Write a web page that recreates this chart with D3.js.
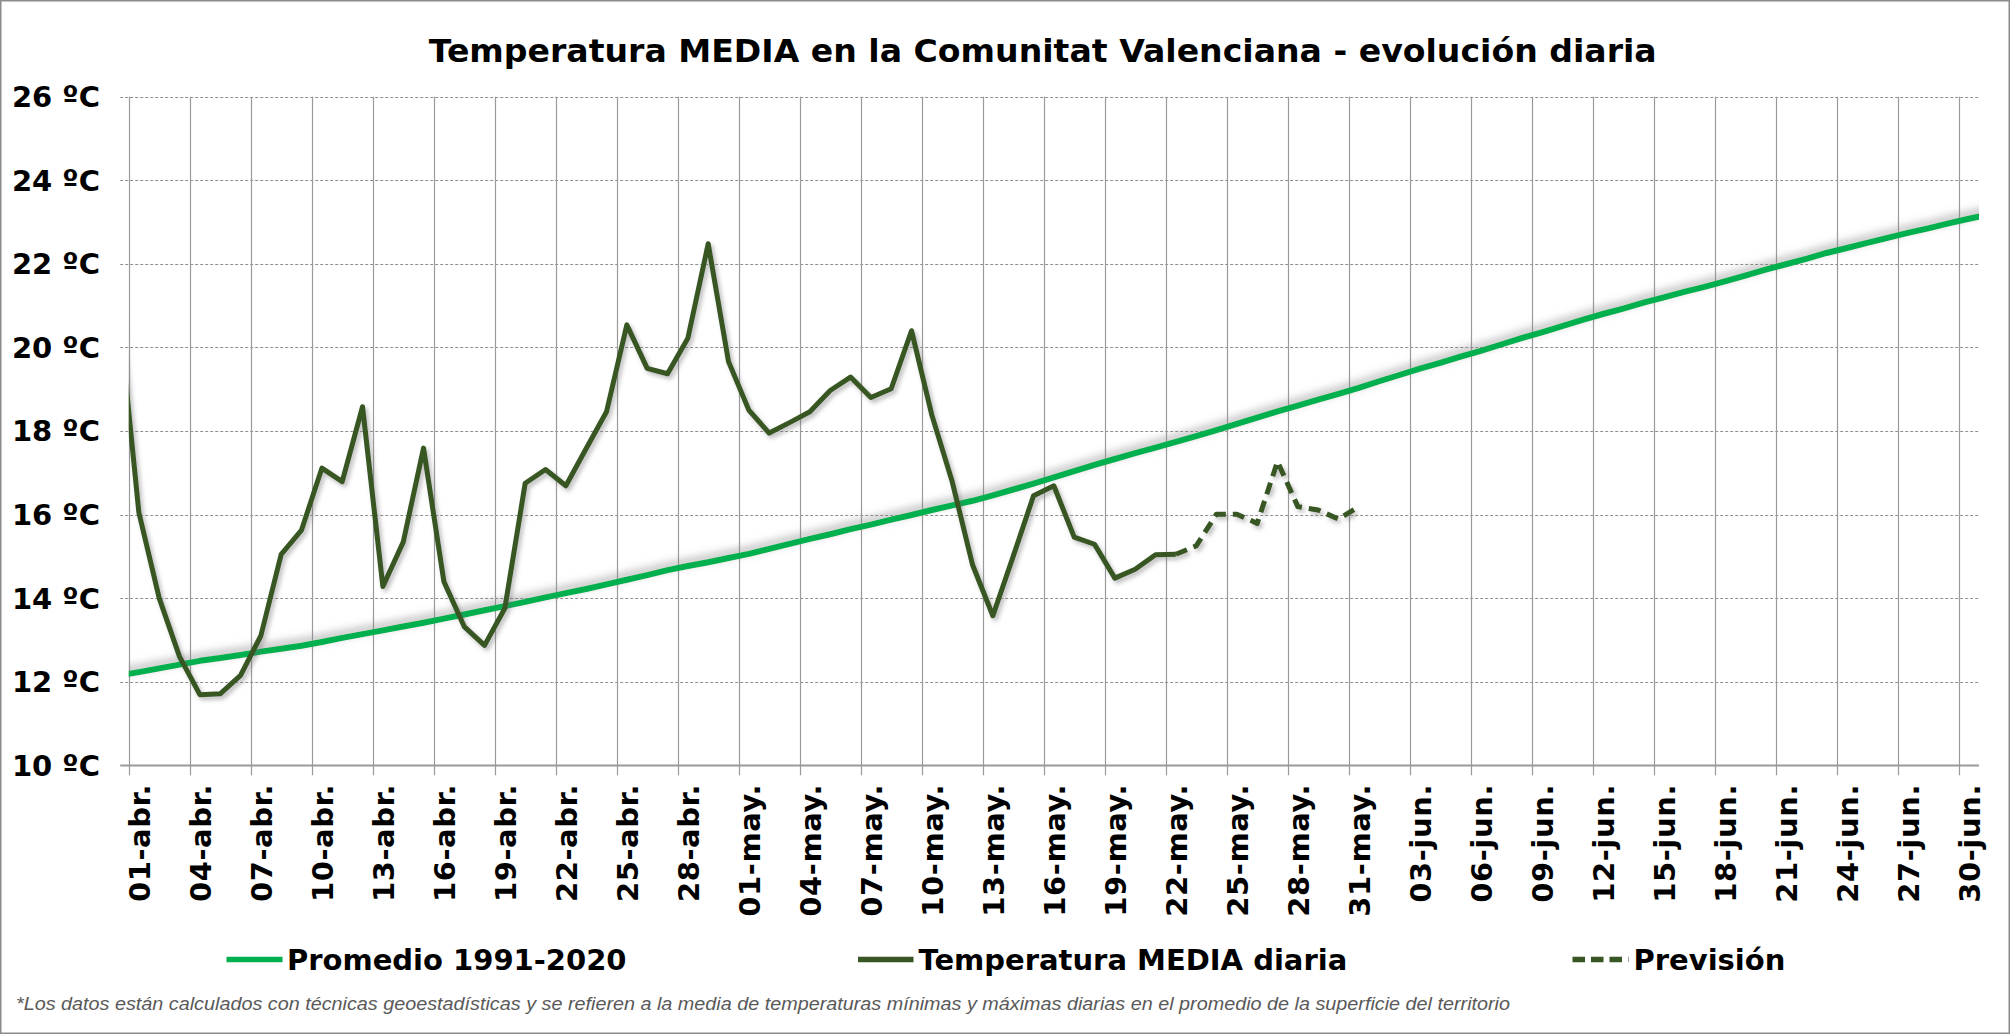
<!DOCTYPE html>
<html>
<head>
<meta charset="utf-8">
<script src="https://cdn.jsdelivr.net/npm/d3@7"></script>
<style>
  html, body { margin: 0; padding: 0; background: #ffffff; }
  svg { display: block; }
</style>
</head>
<body>
<svg id="chart" width="2010" height="1034"></svg>
<script>
// ---------------- DATA ----------------
const titulo = "Temperatura MEDIA en la Comunitat Valenciana - evolución diaria";
const nota = "*Los datos están calculados con técnicas geoestadísticas y se refieren a la media de temperaturas mínimas y máximas diarias en el promedio de la superficie del territorio";

// months of the category axis (01-abr. ... 30-jun.)
const meses = [{ m: "abr.", n: 30 }, { m: "may.", n: 31 }, { m: "jun.", n: 30 }];

// x tick labels (every 3 days)
const etiquetasX = ["01-abr.", "04-abr.", "07-abr.", "10-abr.", "13-abr.", "16-abr.", "19-abr.", "22-abr.", "25-abr.", "28-abr.",
  "01-may.", "04-may.", "07-may.", "10-may.", "13-may.", "16-may.", "19-may.", "22-may.", "25-may.", "28-may.", "31-may.",
  "03-jun.", "06-jun.", "09-jun.", "12-jun.", "15-jun.", "18-jun.", "21-jun.", "24-jun.", "27-jun.", "30-jun."];

// y ticks
const ticksY = [10, 12, 14, 16, 18, 20, 22, 24, 26];
const etiquetasY = ["10 ºC", "12 ºC", "14 ºC", "16 ºC", "18 ºC", "20 ºC", "22 ºC", "24 ºC", "26 ºC"];

// Promedio 1991-2020 : from 31-mar (index -1) to 01-jul (index 91)
const promedioInicio = -1;
const promedio = [12.15,
  12.23, 12.32, 12.41, 12.50, 12.57, 12.64, 12.72, 12.79, 12.86, 12.95,
  13.05, 13.14, 13.23, 13.32, 13.41, 13.51, 13.61, 13.71, 13.81, 13.91,
  14.02, 14.12, 14.22, 14.33, 14.44, 14.55, 14.67, 14.77, 14.86, 14.96,
  15.06, 15.18, 15.30, 15.42, 15.53, 15.65, 15.76, 15.88, 15.99, 16.11,
  16.22, 16.33, 16.46, 16.60, 16.74, 16.89, 17.04, 17.19, 17.33, 17.47,
  17.60, 17.74, 17.88, 18.02, 18.17, 18.32, 18.47, 18.61, 18.75, 18.89,
  19.03, 19.19, 19.34, 19.49, 19.63, 19.78, 19.92, 20.07, 20.22, 20.36,
  20.51, 20.66, 20.80, 20.93, 21.07, 21.20, 21.33, 21.45, 21.58, 21.72,
  21.86, 21.99, 22.12, 22.26, 22.38, 22.50, 22.62, 22.74, 22.85, 22.97,
  23.08, 23.18];

// Temperatura MEDIA diaria : from 31-mar (index -1) to 22-may (index 51)
const mediaInicio = -1;
const mediaDiaria = [20.9,
  16.05, 14.00, 12.60, 11.69, 11.71, 12.15, 13.10, 15.05, 15.63, 17.11,
  16.79, 18.58, 14.28, 15.34, 17.59, 14.40, 13.32, 12.87, 13.76, 16.75,
  17.08, 16.69, 17.58, 18.46, 20.54, 19.50, 19.37, 20.22, 22.48, 19.66,
  18.50, 17.95, 18.20, 18.46, 18.97, 19.29, 18.80, 19.01, 20.40, 18.38,
  16.79, 14.80, 13.58, 15.00, 16.45, 16.69, 15.46, 15.29, 14.48, 14.69,
  15.04, 15.05];

// Previsión : from 22-may (index 51) to 31-may (index 60)
const previsionInicio = 51;
const prevision = [15.05, 15.25, 16.01, 16.01, 15.79, 17.27, 16.19, 16.11, 15.89, 16.19];

const leyenda = ["Promedio 1991-2020", "Temperatura MEDIA diaria", "Previsión"];

// ---------------- LAYOUT ----------------
const W = 2010, H = 1034;
const plot = { left: 128.7, right: 1979, top: 96.7, bottom: 765.3 };
const colores = { promedio: "#00B050", media: "#375623", grid: "#8f8f8f", vgrid: "#9a9a9a" };
const fontBold = "'DejaVu Sans', Verdana, sans-serif";

const categorias = [];
meses.forEach(mm => { for (let d = 1; d <= mm.n; d++) categorias.push((d < 10 ? "0" : "") + d + "-" + mm.m); });
const nCat = categorias.length; // 91

const svg = d3.select("#chart");

// scales
const x = d3.scaleLinear().domain([-0.5, nCat - 0.5]).range([plot.left, plot.right]);
const y = d3.scaleLinear().domain([10, 26]).range([plot.bottom, plot.top]);

// defs: clip + shadows
const defs = svg.append("defs");
defs.append("clipPath").attr("id", "clipPlot").append("rect")
  .attr("x", plot.left).attr("y", plot.top - 20)
  .attr("width", plot.right - plot.left).attr("height", plot.bottom - plot.top + 20);
const f1 = defs.append("filter").attr("id", "shadowGreen").attr("x", "-5%").attr("y", "-20%").attr("width", "110%").attr("height", "140%");
f1.append("feDropShadow").attr("dx", 1).attr("dy", -4).attr("stdDeviation", 4)
  .attr("flood-color", "#7a7a7a").attr("flood-opacity", 0.6);
const f2 = defs.append("filter").attr("id", "shadowDark").attr("x", "-5%").attr("y", "-20%").attr("width", "110%").attr("height", "140%");
f2.append("feDropShadow").attr("dx", 2.5).attr("dy", 3).attr("stdDeviation", 2)
  .attr("flood-color", "#6a6a6a").attr("flood-opacity", 0.45);

// background + border
svg.append("rect").attr("x", 0.75).attr("y", 0.75).attr("width", W - 1.5).attr("height", H - 1.5)
  .attr("fill", "#ffffff").attr("stroke", "#8c8c8c").attr("stroke-width", 1.5);

// title
svg.append("text")
  .attr("x", 1042.7).attr("y", 61.5)
  .attr("text-anchor", "middle")
  .attr("font-family", fontBold).attr("font-weight", "bold").attr("font-size", 31.5)
  .attr("fill", "#000000")
  .attr("textLength", 1228).attr("lengthAdjust", "spacingAndGlyphs")
  .text(titulo);

// horizontal gridlines (dashed)
svg.append("g").selectAll("line").data(ticksY.filter(t => t !== 10)).join("line")
  .attr("x1", plot.left - 8.5).attr("x2", plot.right)
  .attr("y1", d => Math.round(y(d)) + 0.5).attr("y2", d => Math.round(y(d)) + 0.5)
  .attr("stroke", colores.grid).attr("stroke-width", 1.2).attr("stroke-dasharray", "3,2");

// vertical gridlines every 3 categories (incl. y axis line), extended as ticks
const vIdx = d3.range(0, nCat, 3);
svg.append("g").selectAll("line").data(vIdx).join("line")
  .attr("x1", d => Math.round(x(d - 0.5)) + 0.5).attr("x2", d => Math.round(x(d - 0.5)) + 0.5)
  .attr("y1", plot.top).attr("y2", plot.bottom + 10)
  .attr("stroke", colores.vgrid).attr("stroke-width", 1.2);

// x axis line
svg.append("line")
  .attr("x1", plot.left - 8.5).attr("x2", plot.right)
  .attr("y1", Math.round(plot.bottom) + 0.5).attr("y2", Math.round(plot.bottom) + 0.5)
  .attr("stroke", "#9a9a9a").attr("stroke-width", 2);

// y labels
svg.append("g").selectAll("text").data(ticksY).join("text")
  .attr("x", 100).attr("y", d => y(d)).attr("dy", "0.36em")
  .attr("text-anchor", "end")
  .attr("font-family", fontBold).attr("font-weight", "bold").attr("font-size", 29)
  .attr("fill", "#000000")
  .text((d, i) => etiquetasY[i]);

// x labels (rotated), placed at the category each label names
svg.append("g").selectAll("text").data(etiquetasX).join("text")
  .attr("transform", d => `translate(${x(categorias.indexOf(d))},784) rotate(-90)`)
  .attr("dy", "0.37em")
  .attr("text-anchor", "end")
  .attr("font-family", fontBold).attr("font-weight", "bold").attr("font-size", 29)
  .attr("letter-spacing", 0.6)
  .attr("fill", "#000000")
  .text(d => d);

// lines
const lineGen = d3.line().x(d => x(d.i)).y(d => y(d.v));
const serie = (vals, start) => vals.map((v, k) => ({ i: start + k, v }));

const gLines = svg.append("g").attr("clip-path", "url(#clipPlot)");
gLines.append("path").datum(serie(promedio, promedioInicio))
  .attr("d", lineGen).attr("fill", "none")
  .attr("stroke", colores.promedio).attr("stroke-width", 6)
  .attr("stroke-linejoin", "round")
  .attr("filter", "url(#shadowGreen)");
gLines.append("path").datum(serie(mediaDiaria, mediaInicio))
  .attr("d", lineGen).attr("fill", "none")
  .attr("stroke", colores.media).attr("stroke-width", 5)
  .attr("stroke-linejoin", "round")
  .attr("filter", "url(#shadowDark)");
gLines.append("path").datum(serie(prevision, previsionInicio))
  .attr("d", lineGen).attr("fill", "none")
  .attr("stroke", colores.media).attr("stroke-width", 5)
  .attr("stroke-dasharray", "12,7")
  .attr("stroke-linejoin", "round")
  .attr("filter", "url(#shadowDark)");

// legend
const legItems = [
  { x1: 226.5, x2: 282.5, tx: 287, color: colores.promedio, dash: null, w: 5.5 },
  { x1: 858, x2: 913.5, tx: 918.5, color: colores.media, dash: null, w: 5.5 },
  { x1: 1572.5, x2: 1628.5, tx: 1633.5, color: colores.media, dash: "12.5,6", w: 5.5 }
];
const gLeg = svg.append("g");
legItems.forEach((it, k) => {
  gLeg.append("line").attr("x1", it.x1).attr("x2", it.x2).attr("y1", 959.5).attr("y2", 959.5)
    .attr("stroke", it.color).attr("stroke-width", it.w)
    .attr("stroke-dasharray", it.dash);
  gLeg.append("text").attr("x", it.tx).attr("y", 970)
    .attr("font-family", fontBold).attr("font-weight", "bold").attr("font-size", 29)
    .attr("fill", "#000000").text(leyenda[k]);
});

// footnote
svg.append("text")
  .attr("x", 16).attr("y", 1010)
  .attr("font-family", "'Liberation Sans Narrow', 'Liberation Sans', 'Open Sans', sans-serif")
  .attr("font-style", "italic").attr("font-size", 19)
  .attr("fill", "#595959")
  .attr("textLength", 1494).attr("lengthAdjust", "spacingAndGlyphs")
  .text(nota);
</script>
</body>
</html>
